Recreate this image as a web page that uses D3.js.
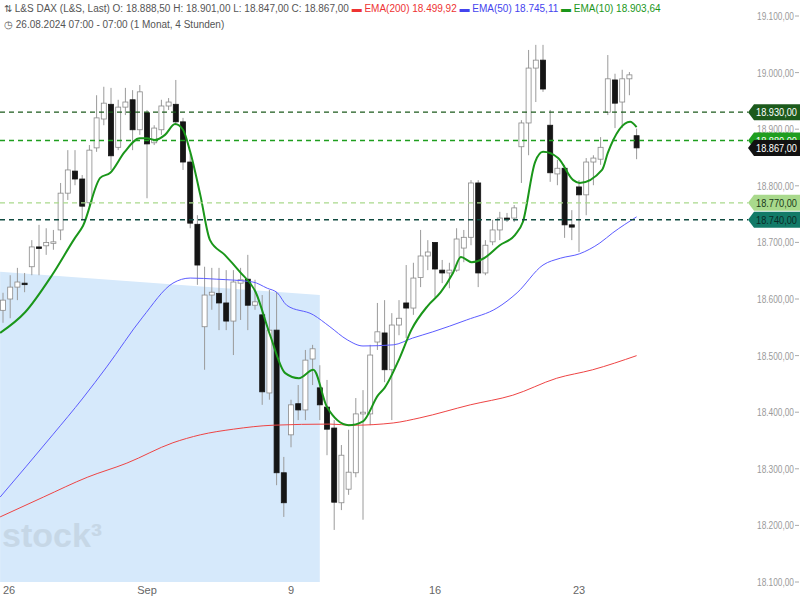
<!DOCTYPE html>
<html><head><meta charset="utf-8">
<script src="https://cdn.jsdelivr.net/npm/d3@7"></script>
<style>body{margin:0;background:#fff}svg{display:block;font-family:Arial,"Liberation Sans",sans-serif}</style>
</head><body><svg id="chart" width="800" height="600"></svg>
<script>
// 4-hour candles, L&S DAX, 26.08. - 25.09.2024
var opens  = [18580,18600,18621,18628,18657,18692,18694,18700,18722,18787,18826,18812,18770,18867,18918,18944,18868,18939,18952,18899,18929,18876,18899,18941,18944,18913,18842,18732,18551,18607,18610,18593,18561,18628,18635,18589,18572,18434,18545,18293,18360,18415,18404,18494,18443,18409,18372,18240,18264,18293,18397,18397,18524,18540,18475,18554,18593,18584,18638,18676,18700,18651,18646,18651,18690,18709,18805,18646,18701,18722,18743,18743,18869,18911,19008,19022,18907,18821,18831,18731,18798,18784,18842,18847,18930,18987,18948,18989,18888.5];
var closes = [18598,18621,18630,18626,18692,18690,18700,18701,18787,18828,18812,18764,18863,18920,18946,18853,18939,18948,18899,18966,18874,18902,18941,18948,18913,18842,18734,18660,18607,18612,18593,18561,18630,18634,18589,18595,18436,18545,18293,18240,18413,18404,18492,18512,18413,18370,18241,18324,18294,18397,18400,18501,18542,18475,18554,18566,18584,18637,18676,18683,18653,18646,18651,18706,18709,18805,18646,18695,18722,18743,18741,18761,18911,19008,19022,18971,18823,18831,18731,18727,18784,18842,18849,18868,18989,18946,18989,18996,18867];
var highs  = [18611,18642,18655,18646,18704,18731,18725,18722,18805,18863,18863,18819,18872,18960,18975,18973,18952,18973,18969,18978,18934,18907,18952,18955,18987,18920,18858,18748,18657,18655,18655,18651,18651,18655,18678,18634,18607,18616,18612,18321,18422,18448,18510,18519,18483,18457,18386,18342,18369,18425,18439,18519,18593,18598,18575,18598,18660,18664,18722,18704,18700,18669,18664,18725,18722,18810,18810,18704,18740,18754,18752,18766,18916,19040,19049,19049,18934,18846,18837,18757,18810,18849,18854,18886,19031,18998,19005,19001,18901];
var lows   = [18558,18566,18598,18612,18642,18642,18678,18687,18704,18775,18801,18740,18766,18860,18907,18828,18863,18925,18863,18890,18778,18872,18890,18934,18907,18828,18725,18625,18475,18581,18545,18545,18501,18563,18545,18581,18413,18422,18271,18215,18338,18386,18386,18448,18386,18324,18192,18227,18254,18285,18210,18377,18510,18453,18386,18536,18531,18572,18621,18651,18603,18628,18619,18648,18665,18695,18621,18642,18695,18704,18736,18736,18805,18854,18948,18966,18807,18801,18708,18704,18683,18748,18801,18837,18925,18902,18902,18960,18847];

// EMA readings: [candle index, value]
var ema10 = [[-0.4,18540],[3.1,18577],[6.8,18642],[10,18708],[11.1,18729],[13.5,18814],[14.9,18823],[16.9,18860],[19,18884],[20,18884],[21.1,18881],[22.5,18890],[23.9,18909],[25,18899],[26,18860],[27.4,18784],[28.75,18704],[30.8,18678],[32.9,18648],[35.1,18612],[37.1,18536],[39.2,18469],[41.1,18460],[43.1,18475],[45,18409],[48,18377],[50,18384],[52.1,18430],[53,18443],[55.1,18496],[56.7,18545],[59,18588],[60.8,18612],[62.5,18646],[63.6,18674],[65.1,18665],[66.8,18672],[69,18695],[71.1,18713],[72.2,18736],[73.9,18842],[75,18860],[77.1,18849],[79.2,18810],[80.1,18805],[83.2,18828],[84,18858],[87.1,18913],[88,18903.64]];
var ema50 = [[-0.4,18250],[6.9,18360],[11.1,18425],[14.4,18480],[19.4,18568],[23.6,18628],[26,18637],[29.7,18635],[34.7,18630],[36.7,18619],[38.1,18611],[39.4,18589],[43.1,18572],[45.4,18551],[47.8,18528],[50,18517],[54.2,18519],[56.9,18531],[59.7,18542],[64.4,18563],[68.6,18584],[71.4,18611],[75,18660],[77.4,18672],[80.1,18680],[82.9,18699],[84.7,18717],[88,18745.11]];
var ema200 = [[-0.4,18215],[5.6,18250],[11.7,18285],[17.2,18310],[23.6,18346],[27.4,18360],[32,18370],[37.5,18377],[45.4,18379],[48.6,18377],[54.2,18381],[57.9,18390],[64.9,18413],[70.8,18430],[76.9,18460],[81.9,18475],[88,18499.92]];

var levels = [18930, 18880, 18770, 18740];
var levelColors = ["#1c5a1c", "#1f9e1f", "#a9d98c", "#127a68"];
var levelText = ["#fff", "#fff", "#1a3a1a", "#0b2a26"];
var zoneTop = [[-0.4,18648],[44,18607]];

var yTicks = d3.range(18100, 19101, 100);
var xTicks = [[0,"26"],[20,"Sep"],[40,"9"],[60,"16"],[80,"23"]];
var lastClose = 18867;

var fmt = d3.formatLocale({decimal:",", thousands:".", grouping:[3], currency:["",""]}).format(",.2f");

var svg = d3.select("#chart");
var x = d3.scaleLinear().domain([0, 88]).range([3, 636.6]);
var y = d3.scaleLinear().domain([18100, 19100]).range([582, 16]);

// shaded zone
var zone = [[zoneTop[0][0],zoneTop[0][1]],[zoneTop[1][0],zoneTop[1][1]],[zoneTop[1][0],18100],[zoneTop[0][0],18100]];
svg.append("path").attr("d", d3.line().x(d => Math.max(0,x(d[0]))).y(d => y(d[1]))(zone) + "Z")
  .attr("fill", "#d6e9fb");

// watermark
svg.append("text").attr("x", 2).attr("y", 547).attr("font-size", 34).attr("font-weight", "bold")
  .attr("fill", "#c3d3e2").attr("opacity", 0.8).text("stock³");

// candles
var idx = d3.range(opens.length);
var g = svg.append("g");
g.selectAll("line.wick").data(idx).join("line")
  .attr("x1", i => x(i)).attr("x2", i => x(i))
  .attr("y1", i => y(highs[i])).attr("y2", i => y(lows[i]))
  .attr("stroke", "#9a9a9a").attr("stroke-width", 1);
g.selectAll("rect").data(idx).join("rect")
  .attr("x", i => x(i) - 2.5).attr("width", 5)
  .attr("y", i => y(Math.max(opens[i], closes[i])))
  .attr("height", i => Math.max(1.5, Math.abs(y(opens[i]) - y(closes[i]))))
  .attr("fill", i => closes[i] >= opens[i] ? "#fff" : "#151515")
  .attr("stroke", i => closes[i] >= opens[i] ? "#8a8a8a" : "#151515")
  .attr("stroke-width", 0.8);

// EMA lines
var line = d3.line().x(d => x(d[0])).y(d => y(d[1])).curve(d3.curveMonotoneX);
svg.append("path").attr("d", line(ema200)).attr("fill", "none").attr("stroke", "#ee4444").attr("stroke-width", 1);
svg.append("path").attr("d", line(ema50)).attr("fill", "none").attr("stroke", "#5c5cff").attr("stroke-width", 1);
svg.append("path").attr("d", line(ema10)).attr("fill", "none").attr("stroke", "#1a961a").attr("stroke-width", 2);

// horizontal levels
levels.forEach(function(v, k) {
  svg.append("line").attr("x1", 0).attr("x2", 748).attr("y1", y(v)).attr("y2", y(v))
    .attr("stroke", k == 3 ? "#104a40" : levelColors[k]).attr("stroke-width", 1.3)
    .attr("stroke-dasharray", "5,4");
});

// right axis
var ax = svg.append("g");
yTicks.forEach(function(v) {
  ax.append("text").attr("x", 757).attr("y", y(v) + 4).attr("font-size", 11).attr("fill", "#9a9a9a")
    .attr("textLength", 37).attr("lengthAdjust", "spacingAndGlyphs").text(fmt(v));
  ax.append("line").attr("x1", 795).attr("x2", 799).attr("y1", y(v)).attr("y2", y(v)).attr("stroke", "#aaa");
});

function tag(v, bg, fg) {
  var yy = y(v);
  svg.append("path").attr("d", "M748," + yy + "L754," + (yy - 8) + "L800," + (yy - 8) + "L800," + (yy + 8) + "L754," + (yy + 8) + "Z")
    .attr("fill", bg);
  svg.append("text").attr("x", 756).attr("y", yy + 4).attr("font-size", 11).attr("fill", fg)
    .attr("textLength", 41).attr("lengthAdjust", "spacingAndGlyphs").text(fmt(v));
}
levels.forEach(function(v, k) { tag(v, levelColors[k], levelText[k]); });
tag(lastClose, "#111", "#fff");

// bottom axis
xTicks.forEach(function(t) {
  svg.append("text").attr("x", x(t[0])).attr("y", 594).attr("font-size", 11).attr("fill", "#666")
    .attr("text-anchor", t[0] == 0 ? "start" : "middle").text(t[1]);
});

// header
var h = svg.append("text").attr("x", 4).attr("y", 12).attr("font-size", 10).attr("fill", "#555");
h.append("tspan").text("⇅ L&S DAX (L&S, Last)  O: 18.888,50  H: 18.901,00  L: 18.847,00  C: 18.867,00  ");
h.append("tspan").attr("fill", "#ee3333").text("▬ EMA(200)  18.499,92  ");
h.append("tspan").attr("fill", "#4444ee").text("▬ EMA(50)  18.745,11  ");
h.append("tspan").attr("fill", "#1a961a").text("▬ EMA(10)  18.903,64");
svg.append("text").attr("x", 4).attr("y", 28).attr("font-size", 10).attr("fill", "#555")
  .text("◷ 26.08.2024 07:00 - 07:00  (1 Monat, 4 Stunden)");
</script></body></html>
